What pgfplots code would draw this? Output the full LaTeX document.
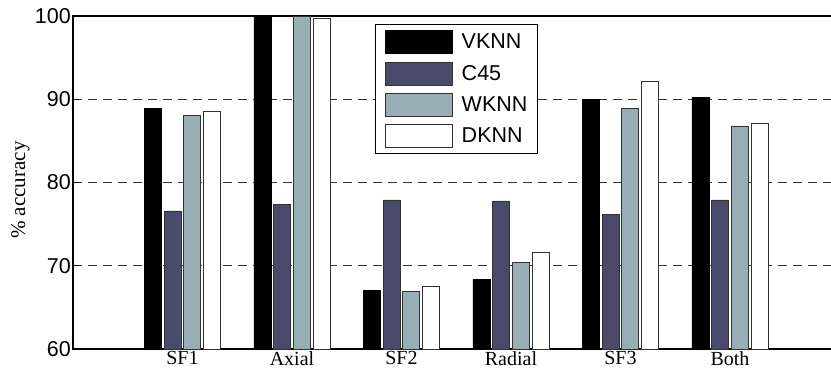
\documentclass[border=0pt]{standalone}
\usepackage{fontspec}
\setmainfont{Liberation Serif}
\setsansfont{Liberation Sans}
\usepackage{pgfplots}
\pgfplotsset{compat=1.18}
\definecolor{cfk}{RGB}{74,74,106}
\definecolor{wkc}{RGB}{150,174,180}
\definecolor{edge}{RGB}{50,50,50}
\begin{document}
\begin{tikzpicture}
\begin{axis}[
  at={(0pt,0pt)}, anchor=south west,
  scale only axis, width=766.5pt, height=333pt,
  xmin=0, xmax=7, ymin=60, ymax=100,
  ybar, bar width=17pt,
  xtick={1,2,3,4,5,6},
  xticklabels={SF1,Axial,SF2,Radial,SF3,Both},
  x tick style={draw=none},
  ytick={60,70,80,90,100},
  y tick style={black, line width=0.8pt},
  major tick length=6pt,
  tick align=inside,
  ymajorgrids,
  grid style={dash pattern=on 9pt off 6pt, black!80, line width=0.8pt},
  axis line style={black, line width=1.1pt},
  /pgf/number format/assume math mode=true,
  yticklabel style={font=\fontsize{21.5}{24}\selectfont\sffamily, inner sep=2pt},
  xticklabel style={font=\fontsize{20}{24}\selectfont, inner sep=2pt},
  ylabel={\% accuracy},
  ylabel style={font=\fontsize{21}{24}\selectfont, at={(axis description cs:-0.0685,0.477)}, anchor=center},
  legend image code/.code={\draw[#1] (0pt,-11.5pt) rectangle (67pt,11.5pt);},
  legend cell align=left,
  legend style={at={(axis description cs:0.394,0.976)}, anchor=north west,
    draw=black, line width=0.9pt, fill=white,
    inner xsep=10pt, inner ysep=6pt, row sep=7.5pt, column sep=8.7pt,
    font=\fontsize{21.5}{24}\selectfont\sffamily,
    nodes={inner sep=0pt}},
]
\addplot[fill=black, draw=black, line width=0.6pt, bar shift=-29.5pt] coordinates {(1,88.9) (2,100) (3,67.0) (4,68.4) (5,90.0) (6,90.2)};
\addplot[fill=cfk, draw=edge, line width=0.6pt, bar shift=-9.8pt] coordinates {(1,76.6) (2,77.4) (3,77.9) (4,77.8) (5,76.2) (6,77.9)};
\addplot[fill=wkc, draw=edge, line width=0.6pt, bar shift=9.8pt] coordinates {(1,88.1) (2,100) (3,66.9) (4,70.4) (5,88.9) (6,86.8)};
\addplot[fill=white, draw=edge, line width=0.6pt, bar shift=29.5pt] coordinates {(1,88.5) (2,99.7) (3,67.5) (4,71.6) (5,92.1) (6,87.1)};
\legend{VKNN,C45,WKNN,DKNN}
\end{axis}
\pgfresetboundingbox
\path[use as bounding box] (-73pt,-24pt) rectangle (758pt,349pt);
\end{tikzpicture}
\end{document}
